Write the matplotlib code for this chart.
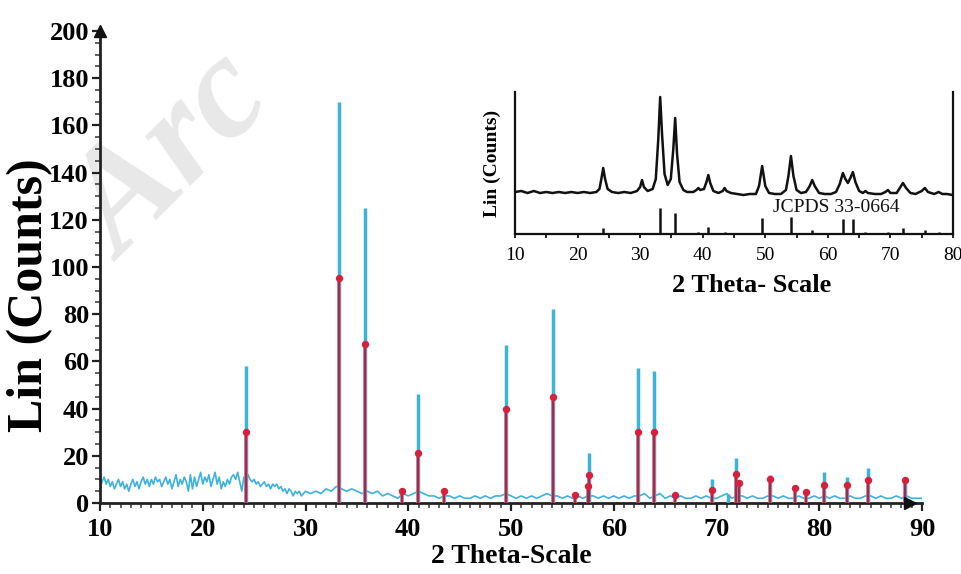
import numpy as np
import matplotlib
matplotlib.use("Agg")
import matplotlib.pyplot as plt
from matplotlib.ticker import MultipleLocator

# ---------------- data ----------------
# noisy background of the measured pattern, 10-30 deg (0.2 deg steps)
bg1_y = [6, 9, 11, 8, 10, 7, 9, 6, 8, 10,
         7, 9, 6, 8, 5, 8, 10, 7, 9, 6,
         9, 11, 8, 10, 7, 10, 8, 11, 9, 10,
         7, 9, 11, 8, 10, 6, 9, 12, 7, 10,
         8, 11, 9, 5, 12, 6, 11, 7, 10, 13,
         8, 11, 9, 12, 7, 10, 13, 8, 11, 6,
         9, 7, 10, 8, 11, 12, 10, 13, 9, 5,
         11, 9, 12, 10, 9, 10, 8, 9, 7, 8,
         9, 7, 8, 6, 8, 7, 8, 6, 7, 5,
         6, 4, 6, 5, 3, 5, 4, 5, 3, 4,
         5]
# background 30.5-90 deg (0.5 deg steps)
bg2_y = [4, 5, 4, 6, 5, 7, 6, 5, 6, 5,
         4, 5, 4, 5, 3, 4, 3, 2, 4, 3,
         4, 5, 4, 3, 3, 2, 3, 3, 2, 3,
         2, 2, 3, 2, 3, 2, 3, 3, 4, 3,
         2, 3, 2, 3, 2, 3, 4, 3, 3, 2,
         3, 2, 3, 2, 3, 3, 2, 3, 2, 3,
         2, 3, 2, 3, 3, 4, 2, 3, 4, 2,
         3, 2, 3, 2, 2, 3, 2, 3, 2, 2,
         3, 4, 2, 3, 3, 2, 3, 2, 2, 3,
         3, 2, 3, 2, 2, 3, 2, 2, 3, 2,
         3, 2, 3, 2, 2, 3, 2, 2, 3, 3,
         2, 3, 2, 2, 3, 2, 3, 2, 2, 2]

# observed diffraction peaks (2theta, counts)
peak_pos = [24.2, 33.25, 35.75, 40.95, 49.5, 54.05, 57.55, 62.4, 63.95,
            69.55, 71.1, 71.85, 75.25, 80.5, 82.7, 84.75, 88.3]
peak_h = [58, 170, 125, 46, 67, 82, 21, 57, 56,
          10, 4, 19, 12, 13, 11, 15, 9]

# reference pattern JCPDS 33-0664 (2theta, counts)
ref_pos = [24.2, 33.25, 35.75, 39.4, 40.95, 43.5, 49.5, 54.05, 56.2, 57.5,
           57.6, 62.4, 63.95, 65.95, 69.55, 71.85, 72.2, 75.25, 77.6, 78.7,
           80.5, 82.7, 84.75, 88.3]
ref_h = [30, 95.5, 67.5, 5, 21, 5, 40, 45, 3.5, 7,
         12, 30, 30, 3.5, 5.5, 12.5, 8.5, 10, 6.5, 4.7,
         7.6, 7.6, 9.7, 9.7]

# inset pattern (arbitrary units)
inset_x = [10, 11, 12, 12.5, 13, 14, 15, 16, 17, 18,
           19, 20, 21, 22, 23, 23.5, 23.8, 24.1, 24.4, 24.8,
           25.5, 26.5, 27.5, 28.5, 29.5, 30.0, 30.3, 30.6, 31.2, 32.0,
           32.5, 32.9, 33.2, 33.5, 33.9, 34.4, 34.9, 35.3, 35.6, 35.9,
           36.3, 36.9, 37.5, 38.5, 39.0, 39.3, 39.6, 40.2, 40.6, 40.9,
           41.2, 41.7, 42.5, 43.2, 43.5, 43.8, 44.5, 45.5, 46.5, 47.5,
           48.5, 49.0, 49.5, 50.0, 50.6, 51.5, 52.5, 53.3, 53.7, 54.1,
           54.5, 55.0, 55.7, 56.5, 57.1, 57.5, 57.9, 58.6, 59.5, 60.5,
           61.3, 61.9, 62.4, 62.8, 63.2, 63.6, 64.0, 64.4, 65.0, 65.6,
           66.0, 66.4, 67.5, 68.5, 69.2, 69.6, 70.0, 71.0, 71.5, 72.0,
           72.5, 73.2, 74.0, 75.0, 75.5, 76.0, 77.0, 77.7, 78.3, 79.0,
           80.0]
inset_y = [42, 43, 41, 42, 43, 41, 42, 41, 42, 41,
           42, 41, 42, 41, 42, 45, 55, 66, 55, 45,
           42, 41, 42, 41, 43, 47, 54, 47, 43, 45,
           55, 95, 137, 100, 60, 49, 55, 85, 116, 80,
           52, 44, 42, 42, 44, 46, 44, 45, 52, 59,
           51, 43, 41, 43, 46, 43, 41, 40, 39, 40,
           40, 48, 68, 48, 41, 40, 40, 44, 58, 78,
           58, 44, 41, 42, 48, 54, 48, 41, 40, 40,
           42, 50, 61, 55, 51, 56, 62, 52, 43, 41,
           43, 41, 40, 40, 42, 44, 41, 41, 46, 51,
           46, 41, 40, 43, 46, 42, 40, 42, 40, 40,
           39]
inset_ref_pos = [24.1, 33.2, 35.6, 39.3, 40.9, 43.5, 49.5, 54.1, 57.5,
                 62.4, 64.0, 66.0, 69.6, 72.0, 75.5, 77.7]
inset_ref_h = [6, 26, 21, 2, 7, 2, 16, 17, 4, 15, 15, 2, 2, 6, 4, 2]

main_xticks = [10, 20, 30, 40, 50, 60, 70, 80, 90]
main_yticks = [0, 20, 40, 60, 80, 100, 120, 140, 160, 180, 200]
inset_xticks = [10, 20, 30, 40, 50, 60, 70, 80]

# ---------------- styling ----------------
CYAN = "#3db3dc"
PINK = "#e0607c"
DARK = "#7a3552"
RED = "#d8203c"
SERIF = ["Liberation Serif", "DejaVu Serif"]

plt.rcParams["font.family"] = SERIF
plt.rcParams["font.weight"] = "bold"

fig = plt.figure(figsize=(9.61, 5.74), dpi=100)
W, H = 961, 574

# watermark (drawn beneath everything)
fig.text(122 / W, 1 - 262 / H, "Arc", fontsize=106, fontstyle="italic",
         fontweight="bold", color="#e8e8e8", rotation=45, ha="left",
         va="baseline", rotation_mode="anchor", zorder=-5, family=SERIF)

ax = fig.add_axes([100 / W, 1 - 503 / H, 822 / W, 472 / H])
ax.patch.set_alpha(0)
ax.set_xlim(10, 90)
ax.set_ylim(0, 200)

x1 = np.linspace(10, 30, len(bg1_y))
x2 = np.linspace(30.5, 90, len(bg2_y))
bx = np.concatenate([x1, x2])
by = np.concatenate([bg1_y, bg2_y])
ax.plot(bx, by, color=CYAN, lw=1.2, zorder=2)
ax.vlines(peak_pos, 0, peak_h, color=CYAN, lw=2.5, zorder=3)

ax.vlines(ref_pos, 0, ref_h, color=PINK, lw=2.6, zorder=4)
ax.vlines(ref_pos, 0, ref_h, color=DARK, lw=1.3, zorder=5)
ax.plot(ref_pos, ref_h, ls="none", marker="o", ms=4.3, color=RED,
        mec=RED, zorder=6)

for s in ["top", "right"]:
    ax.spines[s].set_visible(False)
for s in ["left", "bottom"]:
    ax.spines[s].set_linewidth(2.0)
    ax.spines[s].set_color("#222222")

ax.set_xticks(main_xticks)
ax.set_yticks(main_yticks)
ax.xaxis.set_minor_locator(MultipleLocator(1))
ax.yaxis.set_minor_locator(MultipleLocator(5))
ax.tick_params(axis="both", which="major", length=6, width=1.6,
               direction="out", labelsize=19, color="#222222")
ax.tick_params(axis="both", which="minor", length=3.5, width=1.2,
               direction="out", color="#444444")
ax.tick_params(axis="x", which="major", pad=5)
ax.tick_params(axis="y", which="major", pad=2)
for lab in ax.get_xticklabels() + ax.get_yticklabels():
    lab.set_fontweight("bold")

# axis arrows
ax.plot([0], [1.0], transform=ax.transAxes, marker="^", ms=9, color="#111111",
        clip_on=False, zorder=7)
ax.plot([0.985], [0.0], transform=ax.transAxes, marker=">", ms=9,
        color="#111111", clip_on=False, zorder=7)

ax.set_xlabel("2 Theta-Scale", fontsize=20, fontweight="bold", labelpad=2)
ax.set_ylabel("Lin (Counts)", fontsize=36, fontweight="bold")
ax.yaxis.set_label_coords(-0.057, 0.44)

# ---------------- inset ----------------
ax2 = fig.add_axes([515 / W, 1 - 234 / H, 438 / W, 142 / H])
ax2.patch.set_alpha(0)
ax2.set_xlim(10, 80)
ax2.set_ylim(0, 142)
ax2.plot(inset_x, inset_y, color="#111111", lw=1.8, zorder=3)
ax2.vlines(inset_ref_pos, 0, inset_ref_h, color="#111111", lw=1.8, zorder=3)
ax2.spines["top"].set_visible(False)
for s in ["left", "right", "bottom"]:
    ax2.spines[s].set_linewidth(1.6)
    ax2.spines[s].set_color("#111111")
ax2.set_yticks([])
ax2.set_xticks(inset_xticks)
ax2.xaxis.set_minor_locator(MultipleLocator(5))
ax2.tick_params(axis="x", which="major", length=3, width=1.2, labelsize=14,
                pad=6)
ax2.tick_params(axis="x", which="minor", length=3, width=1.2)
for lab in ax2.get_xticklabels():
    lab.set_fontweight("normal")
ax2.set_xlabel("2 Theta- Scale", fontsize=19, fontweight="bold")
ax2.xaxis.set_label_coords(0.54, -0.285)
ax2.set_ylabel("Lin (Counts)", fontsize=14, fontweight="bold", labelpad=10)
ax2.text(61.3, 26, "JCPDS 33-0664", fontsize=14, fontweight="normal",
         ha="center", va="center", color="#111111")

fig.savefig("out.png", dpi=100)
